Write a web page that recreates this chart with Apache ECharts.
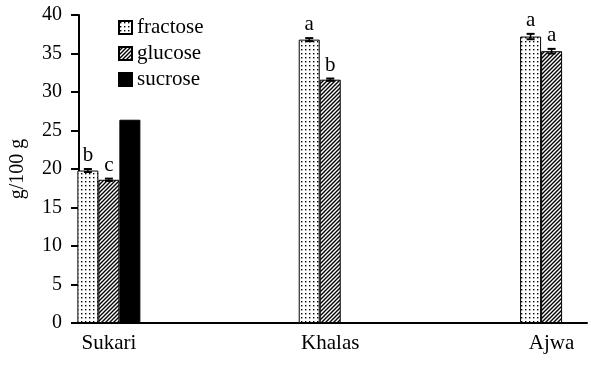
<!DOCTYPE html>
<html>
<head>
<meta charset="utf-8">
<script src="https://cdn.jsdelivr.net/npm/echarts@6/dist/echarts.min.js"></script>
<style>
  html, body { margin: 0; padding: 0; background: #fff; }
  #chart { width: 591px; height: 365px; }
</style>
</head>
<body>
<div id="chart"></div>
<script>
// data
const cultivars = ['Sukari', 'Khalas', 'Ajwa'];
const sugars = ['fractose', 'glucose', 'sucrose'];
const fructoseVals = [19.8, 36.8, 37.2];
const glucoseVals = [18.6, 31.6, 35.3];
const sucroseVals = [26.4, null, null];
const fructoseErr = [0.2, 0.2, 0.35];
const glucoseErr = [0.15, 0.15, 0.3];
const sucroseErr = [0, null, null];
const fructoseLetters = ['b', 'a', 'a'];
const glucoseLetters = ['c', 'b', 'a'];
const sucroseLetters = ['', '', ''];
const yTicks = [0, 5, 10, 15, 20, 25, 30, 35, 40];

const FONT = 'Liberation Serif';
const BAR_W = 21;

function dotPattern() {
  const c = document.createElement('canvas');
  c.width = 4; c.height = 4;
  const ctx = c.getContext('2d');
  ctx.fillStyle = '#fff';
  ctx.fillRect(0, 0, 4, 4);
  ctx.fillStyle = '#000';
  ctx.fillRect(1, 1, 1.4, 1.4);
  return c;
}

function hatchPattern() {
  const c = document.createElement('canvas');
  c.width = 4; c.height = 4;
  const ctx = c.getContext('2d');
  ctx.fillStyle = '#fff';
  ctx.fillRect(0, 0, 4, 4);
  ctx.strokeStyle = '#000';
  ctx.lineWidth = 1.4;
  ctx.beginPath();
  ctx.moveTo(-1, 5); ctx.lineTo(5, -1);
  ctx.moveTo(-1, 1); ctx.lineTo(1, -1);
  ctx.moveTo(3, 5); ctx.lineTo(5, 3);
  ctx.stroke();
  return c;
}

const fills = [
  { image: dotPattern(), repeat: 'repeat' },
  { image: hatchPattern(), repeat: 'repeat' },
  '#000'
];
const valueSets = [fructoseVals, glucoseVals, sucroseVals];
const errSets = [fructoseErr, glucoseErr, sucroseErr];
const letterSets = [fructoseLetters, glucoseLetters, sucroseLetters];

const barSeries = sugars.map((name, s) => ({
  name: name,
  type: 'bar',
  barWidth: BAR_W,
  barGap: '0%',
  itemStyle: { color: fills[s], borderColor: '#000', borderWidth: 1 },
  data: valueSets[s].map((v, i) => (v == null ? [i, '-'] : [i, v]))
}));

// error bars + significance letters
const errData = [];
sugars.forEach((name, s) => {
  valueSets[s].forEach((v, i) => {
    if (v != null) errData.push([i, v, errSets[s][i], s, letterSets[s][i]]);
  });
});

const errSeries = {
  type: 'custom',
  silent: true,
  z: 5,
  data: errData,
  renderItem: function (params, api) {
    const x = api.value(0), v = api.value(1), e = api.value(2), s = api.value(3);
    const letter = errData[params.dataIndex][4];
    const dx = (s - 1) * BAR_W;
    const hi = api.coord([x, v + e]);
    const lo = api.coord([x, v - e]);
    const cx = hi[0] + dx;
    const children = [];
    if (e > 0) {
      children.push({ type: 'line', shape: { x1: cx, y1: hi[1], x2: cx, y2: lo[1] }, style: { stroke: '#000', lineWidth: 1.5 } });
      children.push({ type: 'line', shape: { x1: cx - 4, y1: hi[1], x2: cx + 4, y2: hi[1] }, style: { stroke: '#000', lineWidth: 2 } });
      children.push({ type: 'line', shape: { x1: cx - 4, y1: lo[1], x2: cx + 4, y2: lo[1] }, style: { stroke: '#000', lineWidth: 2 } });
    }
    if (letter) {
      children.push({ type: 'text', style: { text: letter, x: cx, y: hi[1] - 3, align: 'center', verticalAlign: 'bottom', font: '21px "' + FONT + '"', fill: '#000' } });
    }
    return { type: 'group', children: children };
  }
};

const chart = echarts.init(document.getElementById('chart'));
chart.setOption({
  backgroundColor: '#fff',
  animation: false,
  textStyle: { fontFamily: FONT, color: '#000' },
  grid: { left: 71, right: 4, top: 15, bottom: 42 },
  legend: {
    orient: 'vertical',
    left: 113,
    top: 12,
    icon: 'rect',
    itemWidth: 13,
    itemHeight: 13,
    itemGap: 5,
    data: sugars,
    textStyle: { fontFamily: FONT, fontSize: 21, color: '#000' }
  },
  xAxis: {
    type: 'value',
    min: -0.135,
    max: 2.16,
    axisLine: { show: true, lineStyle: { color: '#000', width: 2 } },
    axisTick: { show: false },
    splitLine: { show: false },
    axisLabel: {
      margin: 10,
      fontFamily: FONT,
      fontSize: 21,
      color: '#000',
      showMinLabel: false,
      showMaxLabel: false,
      formatter: function (v) {
        return Number.isInteger(v) && cultivars[v] ? cultivars[v] : '';
      }
    }
  },
  yAxis: {
    type: 'value',
    min: yTicks[0],
    max: yTicks[yTicks.length - 1],
    interval: yTicks[1] - yTicks[0],
    name: 'g/100 g',
    nameLocation: 'middle',
    nameGap: 51,
    nameTextStyle: { fontFamily: FONT, fontSize: 20, color: '#000' },
    axisLine: { show: true, onZero: false, lineStyle: { color: '#000', width: 2 } },
    axisTick: { show: true, length: 8, lineStyle: { color: '#000', width: 2 } },
    splitLine: { show: false },
    axisLabel: { margin: 17, fontFamily: FONT, fontSize: 20, color: '#000' }
  },
  series: barSeries.concat([errSeries])
});
</script>
</body>
</html>
